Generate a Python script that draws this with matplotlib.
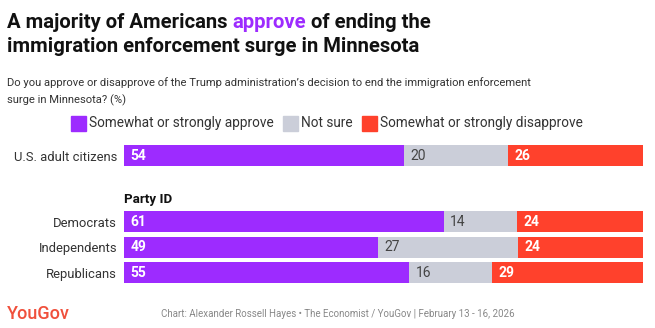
import numpy as np
import matplotlib
matplotlib.use('Agg')
import matplotlib.pyplot as plt
from matplotlib.patches import Rectangle

# datos
grupos = ['U.S. adult citizens', 'Democrats', 'Independents', 'Republicans']
aprueba = [54, 61, 49, 55]
no_seguro = [20, 14, 27, 16]
desaprueba = [26, 24, 24, 29]
leyenda = ['Somewhat or strongly approve', 'Not sure', 'Somewhat or strongly disapprove']

MORADO = '#9d2bff'
GRIS = '#cbced9'
ROJO = '#ff412c'
colores = [MORADO, GRIS, ROJO]

plt.rcParams['font.family'] = ['Roboto', 'DejaVu Sans']

W, H = 655, 328
fig = plt.figure(figsize=(W / 100, H / 100), dpi=100)


def fx(px):
    return px / W


def fy(py):
    return 1 - py / H


# titulo
TAM_T = 14.6
t1 = fig.text(fx(7), fy(27.5), 'A majority of Americans', fontsize=TAM_T,
              fontweight='bold', color='#111111', va='baseline')
t2 = fig.text(0, 0, 'approve', fontsize=TAM_T, fontweight='bold', color=MORADO, va='baseline')
t3 = fig.text(0, 0, 'of ending the', fontsize=TAM_T, fontweight='bold', color='#111111', va='baseline')
fig.text(fx(7), fy(51.5), 'immigration enforcement surge in Minnesota', fontsize=TAM_T,
         fontweight='bold', color='#111111', va='baseline')

fig.text(fx(7), fy(85.5), 'Do you approve or disapprove of the Trump administration\u2019s decision '
         'to end the immigration enforcement', fontsize=8.1, color='#333333', va='baseline')
fig.text(fx(7), fy(103.5), 'surge in Minnesota? (%)', fontsize=8.1, color='#333333', va='baseline')

# leyenda
cuadros_x = [71, 283, 362]
for x0, c, etiqueta in zip(cuadros_x, colores, leyenda):
    fig.patches.append(Rectangle((fx(x0), fy(131)), fx(15), 15 / H, color=c,
                                 transform=fig.transFigure, figure=fig))
    fig.text(fx(x0 + 18), fy(123), etiqueta, fontsize=9.8, color='#333333', va='center')

# barras
ax = fig.add_axes([fx(124), fy(290), fx(519), 150 / H])
pos = np.array([0, 2.6, 3.6, 4.6])
datos = np.array([aprueba, no_seguro, desaprueba], dtype=float)
pct = datos / datos.sum(axis=0) * 100
izq = np.zeros(len(grupos))
for i in range(3):
    ax.barh(pos, pct[i], left=izq, height=0.82, color=colores[i], linewidth=0)
    for j in range(len(grupos)):
        if i == 1:
            ax.text(izq[j] + 1.2, pos[j], f'{int(datos[i, j])}', color='#444444',
                    fontsize=10, va='center', ha='left')
        else:
            ax.text(izq[j] + 1.2, pos[j], f'{int(datos[i, j])}', color='white',
                    fontsize=10, fontweight='bold', va='center', ha='left')
    izq += pct[i]

ax.set_xlim(0, 100)
ax.set_ylim(5.27, -0.608)
ax.set_yticks(pos)
ax.set_yticklabels(grupos, fontsize=9.4, color='#333333')
ax.tick_params(axis='y', length=0, pad=5)
ax.set_xticks([])
for s in ax.spines.values():
    s.set_visible(False)
ax.patch.set_alpha(0)
ax.text(0, 1.71, 'Party ID', fontsize=9.6, fontweight='bold', color='#111111',
        va='center', ha='left')

# pie
fig.text(fx(7), fy(319), 'YouGov', fontsize=13, fontweight='medium', color='#f0503c',
         va='baseline')
fig.text(fx(515), fy(317), 'Chart: Alexander Rossell Hayes \u2022 The Economist / YouGov | '
         'February 13 - 16, 2026', fontsize=7.0, color='#888888', va='baseline', ha='right')

# colocar las partes del titulo
fig.canvas.draw()
r = fig.canvas.get_renderer()
esp = 5
b1 = t1.get_window_extent(r)
t2.set_position((fx(b1.x1 + esp), fy(27.5)))
b2 = t2.get_window_extent(r)
t3.set_position((fx(b2.x1 + esp), fy(27.5)))

fig.savefig('out.png', dpi=100)
